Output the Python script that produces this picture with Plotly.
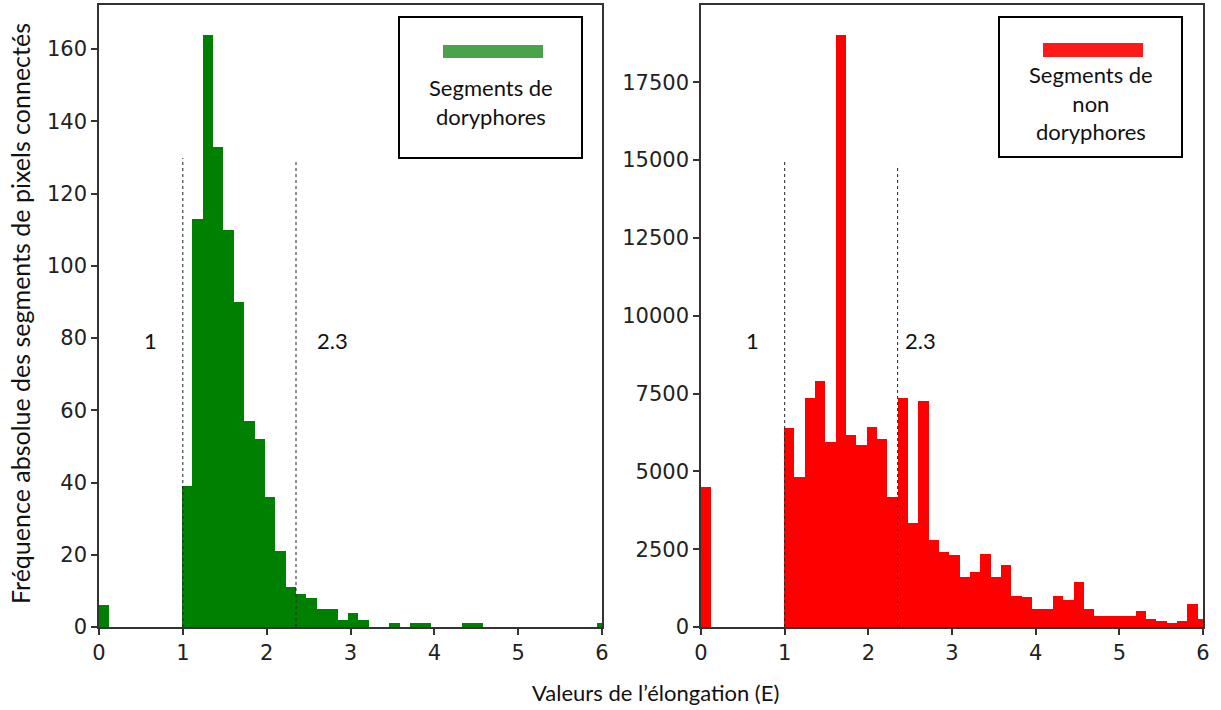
import plotly.graph_objects as go

# ---- data ----
bin_start = 0.0
bin_width = 0.1237

counts_doryphores = [6, 0, 0, 0, 0, 0, 0, 0, 39, 113, 164, 133, 110, 90, 57, 52, 36, 21, 11, 9,
                     8, 5, 5, 2, 4, 2, 0, 0, 1, 0, 1, 1, 0, 0, 0, 1, 1, 0, 0, 0,
                     0, 0, 0, 0, 0, 0, 0, 0, 1]
counts_non_doryphores = [4500, 0, 0, 0, 0, 0, 0, 0, 6380, 4830, 7372, 7918, 5935, 19030, 6152, 5834,
                         6431, 6050, 4182, 7372, 3355, 7245, 2809, 2420, 2310, 1600, 1780, 2330, 1613,
                         2000, 1004, 950, 577, 577, 1004, 854, 1452, 577, 342, 342, 342, 342, 513, 256,
                         192, 139, 192, 726, 256]

thresholds = [1.0, 2.35]
threshold_labels = ["1", "2.3"]
label_x_left = [0.62, 2.79]
label_x_right = [0.61, 2.62]

x_ticks = [0, 1, 2, 3, 4, 5, 6]
y_ticks_left = [0, 20, 40, 60, 80, 100, 120, 140, 160]
y_ticks_right = [0, 2500, 5000, 7500, 10000, 12500, 15000, 17500]

legend_left = "Segments de<br>doryphores"
legend_right = "Segments de<br>non<br>doryphores"
x_title = "Valeurs de l’élongation (E)"
y_title = "Fréquence absolue des segments de pixels connectés"

W, H = 1221, 710
centers1 = [bin_start + (i + 0.5) * bin_width for i in range(len(counts_doryphores))]
centers2 = [bin_start + (i + 0.5) * bin_width for i in range(len(counts_non_doryphores))]

fig = go.Figure()
fig.add_trace(go.Bar(x=centers1, y=counts_doryphores, width=bin_width, marker=dict(color="#008000", line=dict(width=0)),
                     xaxis="x", yaxis="y", showlegend=False))
fig.add_trace(go.Bar(x=centers2, y=counts_non_doryphores, width=bin_width, marker=dict(color="#ff0000", line=dict(width=0)),
                     xaxis="x2", yaxis="y2", showlegend=False))


def px(x):
    return x / W


def py(y):
    return 1 - y / H


tickfont = dict(family="DejaVu Sans", size=21, color="#222222")
axis_common = dict(showline=True, linecolor="#333333", linewidth=1.6, mirror=True, ticks="outside",
                   ticklen=6, tickwidth=1.5, tickcolor="#333333", showgrid=False, zeroline=False,
                   tickfont=tickfont, automargin=False)

fig.update_layout(
    width=W, height=H, margin=dict(l=0, r=0, t=0, b=0),
    paper_bgcolor="white", plot_bgcolor="white", bargap=0,
    xaxis=dict(domain=[px(99), px(602)], range=[0, 6], tickvals=x_ticks, anchor="y", **axis_common),
    yaxis=dict(domain=[py(627), py(5)], range=[0, 172.2], tickvals=y_ticks_left, anchor="x", **axis_common),
    xaxis2=dict(domain=[px(701), px(1203)], range=[0, 6], tickvals=x_ticks, anchor="y2", **axis_common),
    yaxis2=dict(domain=[py(627), py(5)], range=[0, 19980], tickvals=y_ticks_right,
                ticktext=[str(v) for v in y_ticks_right], anchor="x2", **axis_common),
)

shapes = []
annotations = []
txtfont = dict(family="Lato", size=22, color="#111111")
line_tops = {("x", 0): 0.754, ("x", 1): 0.748, ("x2", 0): 0.749, ("x2", 1): 0.743}
for xa, ya, lxs in (("x", "y", label_x_left), ("x2", "y2", label_x_right)):
    for k, t in enumerate(thresholds):
        shapes.append(dict(type="line", xref=xa, yref=ya + " domain", x0=t, x1=t, y0=0, y1=line_tops[(xa, k)],
                           line=dict(color="#222222", width=1, dash="dot"), layer="above"))
        annotations.append(dict(text=threshold_labels[k], xref=xa, yref=ya + " domain", x=lxs[k], y=0.461,
                                showarrow=False, font=txtfont, xanchor="center", yanchor="middle"))

# legend boxes
for (x0, x1, y0, y1), (sx0, sx1, sy0, sy1), col, txt, ty in (
    ((399, 582, 17, 158), (443, 543, 45, 58), "#4aa24a", legend_left, 102),
    ((999, 1182, 17, 157), (1043, 1143, 43, 57), "#ff1a1a", legend_right, 103),
):
    shapes.append(dict(type="rect", xref="paper", yref="paper", x0=px(x0), x1=px(x1), y0=py(y1), y1=py(y0),
                       line=dict(color="black", width=2), fillcolor="white", layer="above"))
    shapes.append(dict(type="rect", xref="paper", yref="paper", x0=px(sx0), x1=px(sx1), y0=py(sy1), y1=py(sy0),
                       line=dict(width=0), fillcolor=col, layer="above"))
    annotations.append(dict(text=txt, xref="paper", yref="paper", x=px((x0 + x1) / 2), y=py(ty),
                            showarrow=False, font=txtfont, xanchor="center", yanchor="middle", align="center"))

annotations.append(dict(text=x_title, xref="paper", yref="paper", x=px(655), y=py(692), showarrow=False,
                        font=txtfont, xanchor="center", yanchor="middle"))
annotations.append(dict(text=y_title, xref="paper", yref="paper", x=px(20), y=py(314), showarrow=False,
                        font=dict(family="Lato", size=25, color="#111111"), xanchor="center", yanchor="middle",
                        textangle=-90))

fig.update_layout(shapes=shapes, annotations=annotations)
fig.write_html("out.html", config={"displayModeBar": False})

# remove the default page margin so the figure fills the window exactly
with open("out.html", "r", encoding="utf-8") as f:
    html = f.read()
html = html.replace("<body>", '<body style="margin:0;padding:0;overflow:hidden">', 1)
with open("out.html", "w", encoding="utf-8") as f:
    f.write(html)
